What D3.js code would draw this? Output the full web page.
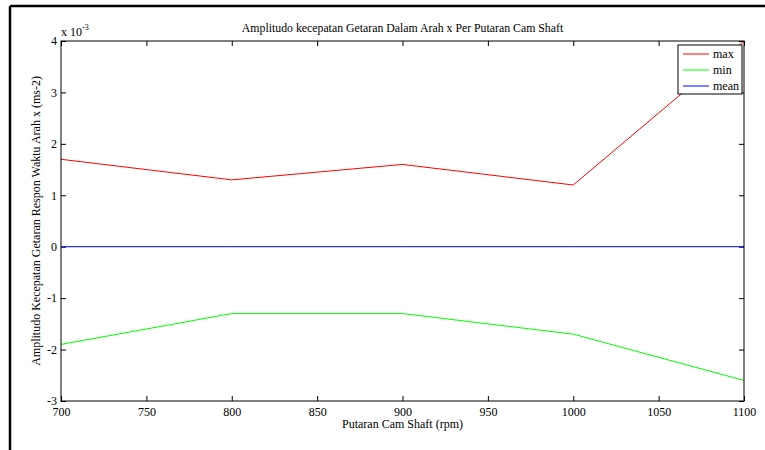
<!DOCTYPE html>
<html>
<head>
    <meta charset="utf-8">
    <script src="https://d3js.org/d3.v7.min.js"></script>
    <style>
        body { margin: 0; background: #fff; }
        text { font-family: "Liberation Serif", "Times New Roman", serif; fill: #000; }
    </style>
</head>
<body>
<div id="chart"></div>
<script>
    // data
    const rpm = [700, 800, 900, 1000, 1100];
    const maxVals = [1.7, 1.3, 1.6, 1.2, 4.0];   // x 10^-3
    const minVals = [-1.9, -1.3, -1.3, -1.7, -2.6];
    const meanVals = [0, 0, 0, 0, 0];
    const xTicks = [700, 750, 800, 850, 900, 950, 1000, 1050, 1100];
    const yTicks = [-3, -2, -1, 0, 1, 2, 3, 4];

    const width = 765, height = 450;
    const margin = { left: 61, right: 21, top: 41, bottom: 49 };

    const svg = d3.select("#chart").append("svg")
        .attr("width", width)
        .attr("height", height);

    // figure frame (left and top edges visible)
    svg.append("line").attr("x1", 10).attr("y1", 6).attr("x2", 10).attr("y2", height)
        .attr("stroke", "#000").attr("stroke-width", 2.5);
    svg.append("line").attr("x1", 10).attr("y1", 6).attr("x2", width).attr("y2", 6)
        .attr("stroke", "#000").attr("stroke-width", 2.5);

    const x = d3.scaleLinear().domain([700, 1100]).range([margin.left, width - margin.right]);
    const y = d3.scaleLinear().domain([-3, 4]).range([height - margin.bottom, margin.top]);

    const g = svg.append("g");
    const fmt = d => String(d);

    // axes with inward ticks (MATLAB style)
    const tick = 5;
    g.append("g")
        .attr("transform", `translate(0,${y(-3)})`)
        .call(d3.axisBottom(x).tickValues(xTicks).tickFormat(fmt).tickSizeInner(-tick).tickSizeOuter(0).tickPadding(6))
        .call(a => a.select(".domain").remove());
    g.append("g")
        .attr("transform", `translate(0,${y(4)})`)
        .call(d3.axisTop(x).tickValues(xTicks).tickSizeInner(-tick).tickSizeOuter(0).tickFormat(""))
        .call(a => a.select(".domain").remove());
    g.append("g")
        .attr("transform", `translate(${x(700)},0)`)
        .call(d3.axisLeft(y).tickValues(yTicks).tickFormat(fmt).tickSizeInner(-tick).tickSizeOuter(0).tickPadding(4))
        .call(a => a.select(".domain").remove());
    g.append("g")
        .attr("transform", `translate(${x(1100)},0)`)
        .call(d3.axisRight(y).tickValues(yTicks).tickSizeInner(-tick).tickSizeOuter(0).tickFormat(""))
        .call(a => a.select(".domain").remove());

    g.selectAll(".tick text")
        .style("font-family", '"Liberation Serif", "Times New Roman", serif')
        .style("font-size", "12px");
    g.selectAll(".tick line").attr("stroke", "#000");

    // lines
    const series = [
        { name: "max", values: maxVals, color: "#ff0000" },
        { name: "min", values: minVals, color: "#00ff00" },
        { name: "mean", values: meanVals, color: "#0000ff" }
    ];
    const line = d3.line().x((d, i) => x(rpm[i])).y(d => y(d));
    svg.append("clipPath").attr("id", "clip")
        .append("rect")
        .attr("x", x(700)).attr("y", y(4))
        .attr("width", x(1100) - x(700)).attr("height", y(-3) - y(4));
    svg.append("g").attr("clip-path", "url(#clip)")
        .selectAll("path")
        .data(series)
        .join("path")
        .attr("d", d => line(d.values))
        .attr("fill", "none")
        .attr("stroke", d => d.color)
        .attr("stroke-width", 1);

    // axes box
    svg.append("rect")
        .attr("x", x(700)).attr("y", y(4))
        .attr("width", x(1100) - x(700)).attr("height", y(-3) - y(4))
        .attr("fill", "none").attr("stroke", "#000").attr("stroke-width", 1);

    // title and labels
    svg.append("text")
        .attr("x", (x(700) + x(1100)) / 2).attr("y", 32)
        .attr("text-anchor", "middle").style("font-size", "11.8px")
        .text("Amplitudo kecepatan Getaran Dalam Arah x Per Putaran Cam Shaft");
    svg.append("text")
        .attr("x", (x(700) + x(1100)) / 2).attr("y", 428)
        .attr("text-anchor", "middle").style("font-size", "12px")
        .text("Putaran Cam Shaft (rpm)");
    svg.append("text")
        .attr("transform", `translate(40,${(y(4) + y(-3)) / 2}) rotate(-90)`)
        .attr("text-anchor", "middle").style("font-size", "12px")
        .text("Amplitudo Kecepatan Getaran Respon Waktu Arah x (ms-2)");

    const exp = svg.append("text").attr("x", x(700)).attr("y", 36).style("font-size", "12px");
    exp.append("tspan").text("x 10");
    exp.append("tspan").attr("dy", -6).style("font-size", "8px").text("-3");

    // legend
    const lg = svg.append("g").attr("transform", "translate(678,45)");
    lg.append("rect").attr("width", 64).attr("height", 49)
        .attr("fill", "#fff").attr("stroke", "#000").attr("stroke-width", 1);
    series.forEach((s, i) => {
        const yy = 9 + i * 16;
        lg.append("line").attr("x1", 5).attr("x2", 31).attr("y1", yy).attr("y2", yy)
            .attr("stroke", s.color).attr("stroke-width", 1);
        lg.append("text").attr("x", 35).attr("y", yy + 4).style("font-size", "12px").text(s.name);
    });
</script>
</body>
</html>
